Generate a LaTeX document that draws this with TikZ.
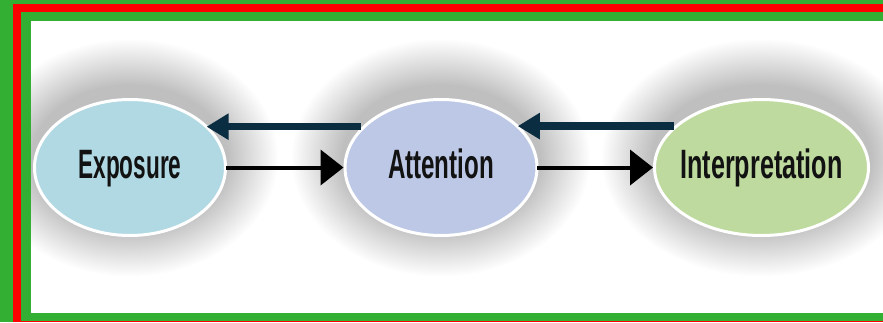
\documentclass[tikz,border=0pt]{standalone}
\usepackage{fontspec}
\usetikzlibrary{arrows.meta,shapes.geometric}
\newfontfamily\lblfont{Liberation Sans}
\definecolor{framegreen}{HTML}{33B034}
\definecolor{framered}{HTML}{FF0000}
\definecolor{expfill}{HTML}{B1D9E4}
\definecolor{attfill}{HTML}{BCC8E5}
\definecolor{intfill}{HTML}{BEDA9E}
\definecolor{navy}{HTML}{0B2D42}
\newcommand{\lbltext}[2]{\makebox[0pt]{\resizebox{#1}{\height}{\lblfont\bfseries\fontsize{41}{41}\selectfont #2}}}
\tikzset{
  oval/.style={ellipse, draw=white, line width=3pt, inner sep=0pt, outer sep=0pt,
    minimum height=136pt, text height=29.5pt, text depth=7pt, text=black!93},
  backarrow/.style={draw=navy, line width=7.5pt, -{Triangle[length=22pt,width=25pt]}},
  fwdarrow/.style={draw=black, line width=4pt, -{Triangle[length=23pt,width=35pt]}, shorten >=1.5pt},
}
\begin{document}
\begin{tikzpicture}[x=1pt,y=-1pt]
\useasboundingbox (0,0) rectangle (883,322);
% frame
\fill[framegreen] (0,0) rectangle (883,322);
\fill[framered] (13,4) rectangle (883,322);
\fill[framegreen] (21,12) rectangle (883,321);
\fill[white] (31,21) rectangle (883,313);
% shadows
\begin{scope}
\clip (31,21) rectangle (883,313);
\foreach \cx/\rx in {130/97, 441/98, 761.5/108.5} {
  \foreach \i in {1,...,32} {
    \fill[black, opacity=0.0065] (\cx,158) ellipse [x radius={\rx+1.6*\i}, y radius={72+1.45*\i}];
  }
}
\end{scope}
% nodes
\node[oval, fill=expfill, minimum width=191pt] (exp) at (130,167.5) {\lbltext{103pt}{Exposure}};
\node[oval, fill=attfill, minimum width=192pt] (att) at (441,167.5) {\lbltext{106pt}{Attention}};
\node[oval, fill=intfill, minimum width=214pt] (int) at (761.5,167.5) {\lbltext{162pt}{Interpretation}};
% arrows
\draw[backarrow] ([xshift=-3pt]att.152) -- (exp.28 |- att.152);
\draw[backarrow] ([xshift=-3pt]int.154) -- (att.28 |- int.154);
\draw[fwdarrow] (exp.east) -- (att.west);
\draw[fwdarrow] (att.east) -- (int.west);
\end{tikzpicture}
\end{document}
